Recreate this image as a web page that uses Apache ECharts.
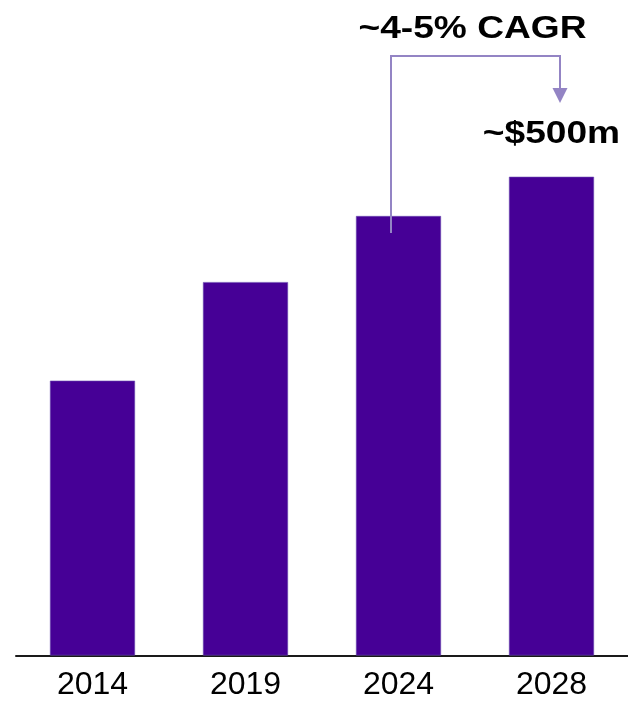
<!DOCTYPE html>
<html>
<head>
<meta charset="utf-8">
<style>
  html, body { margin: 0; padding: 0; background: #ffffff; }
  #chart { width: 628px; height: 707px; }
</style>
<script src="https://cdn.jsdelivr.net/npm/echarts@6/dist/echarts.min.js"></script>
</head>
<body>
<div id="chart"></div>
<script>
// Market size by year, US$ millions
const years = ['2014', '2019', '2024', '2028'];
const marketSize = [287, 390, 459, 500];
const growthLabel = '~4-5% CAGR';
const endLabel = '~$500m';

const BAR_COLOR = '#460096';
const ARROW_COLOR = '#9384c4';
const FONT = 'Liberation Sans, Arial, sans-serif';
const BOLD_FONT = 'bold 32px ' + FONT;

const chart = echarts.init(document.getElementById('chart'), null, { renderer: 'canvas' });

chart.setOption({
  animation: false,
  backgroundColor: '#ffffff',
  grid: { left: 16, top: 81, width: 614, height: 574.5, containLabel: false },
  xAxis: {
    type: 'category',
    data: years,
    axisTick: { show: false },
    axisLine: { show: true, lineStyle: { color: '#1a1a1a', width: 2 } },
    axisLabel: { margin: 14, fontFamily: FONT, fontSize: 32, color: '#000000' }
  },
  yAxis: {
    type: 'value',
    min: 0,
    max: 600,
    show: false,
    splitLine: { show: false }
  },
  series: [{
    type: 'bar',
    data: marketSize,
    barWidth: '55.6%',
    itemStyle: { color: BAR_COLOR, borderColor: '#6a4bb0', borderWidth: 0.6 }
  }]
});

// Headline, value callout and the growth arrow from the 2024 bar to the 2028 value
function drawAnnotations() {
  const last = marketSize.length - 1;
  const p2024 = chart.convertToPixel({ seriesIndex: 0 }, [2, marketSize[2]]);
  const pEnd = chart.convertToPixel({ seriesIndex: 0 }, [last, marketSize[last]]);
  const xLeft = p2024[0] - 7.5;
  const xRight = pEnd[0] + 8.5;
  const yBottom = p2024[1] + 17;
  const yTop = 56;
  const headTop = 88;
  const headTip = 103;
  chart.setOption({
    graphic: [
      {
        type: 'text',
        x: (xLeft + xRight) / 2 - 3,
        y: 29,
        scaleX: 1.16,
        style: {
          text: growthLabel, font: BOLD_FONT, fill: '#000000',
          textAlign: 'center', textVerticalAlign: 'middle'
        }
      },
      {
        type: 'text',
        x: pEnd[0],
        y: pEnd[1] - 43,
        scaleX: 1.16,
        style: {
          text: endLabel, font: BOLD_FONT, fill: '#000000',
          textAlign: 'center', textVerticalAlign: 'middle'
        }
      },
      {
        type: 'polyline',
        z: 10,
        shape: { points: [[xLeft, yBottom], [xLeft, yTop], [xRight, yTop], [xRight, headTop + 1]] },
        style: { stroke: ARROW_COLOR, lineWidth: 2, fill: null }
      },
      {
        type: 'polygon',
        z: 10,
        shape: { points: [[xRight - 7.5, headTop], [xRight + 7.5, headTop], [xRight, headTip]] },
        style: { fill: ARROW_COLOR, stroke: null }
      }
    ]
  });
}
drawAnnotations();
</script>
</body>
</html>
